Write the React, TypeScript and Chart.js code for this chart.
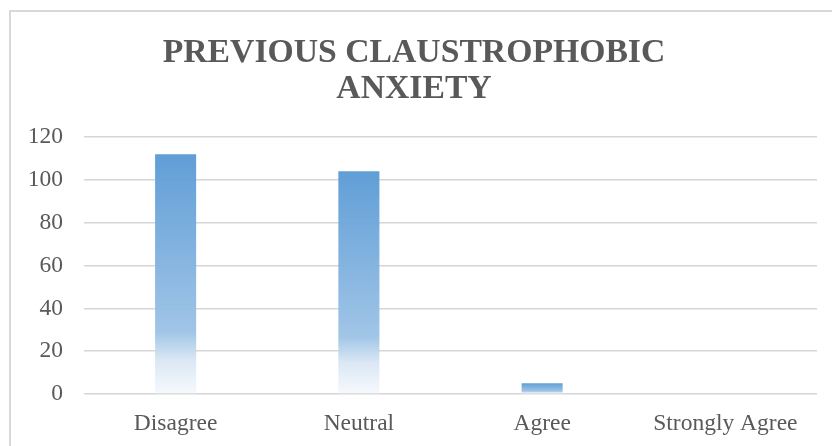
import React, { useEffect, useRef } from "react";
import { Chart, registerables } from "chart.js";

Chart.register(...registerables);

const categories = ["Disagree", "Neutral", "Agree", "Strongly Agree"];
const counts = [112, 104, 5, 0];
const titleLines = ["PREVIOUS CLAUSTROPHOBIC", "ANXIETY"];
const yMin = 0;
const yMax = 120;
const yStep = 20;

const FONT = "'Liberation Serif', 'Times New Roman', serif";
const TEXT = "#595959";

export default function App() {
  const ref = useRef<HTMLCanvasElement | null>(null);

  useEffect(() => {
    if (!ref.current) return;
    const chart = new Chart(ref.current, {
      type: "bar",
      data: {
        labels: categories,
        datasets: [
          {
            label: "Count",
            data: counts,
            barPercentage: 0.224,
            categoryPercentage: 1,
            borderWidth: 0,
            backgroundColor: (ctx: any) => {
              const c = ctx.chart;
              const ys = c.scales && c.scales.y;
              if (!ys || ctx.type !== "data") return "#5B9BD5";
              const v = ctx.parsed ? ctx.parsed.y : 0;
              const top = ys.getPixelForValue(v);
              const bottom = ys.getPixelForValue(0);
              if (!isFinite(top) || !isFinite(bottom) || Math.abs(bottom - top) < 1) return "#5B9BD5";
              const g = c.ctx.createLinearGradient(0, top, 0, bottom);
              g.addColorStop(0, "rgba(91,155,213,0.97)");
              g.addColorStop(0.74, "rgba(157,195,230,0.97)");
              g.addColorStop(0.86, "rgba(218,231,244,0.97)");
              g.addColorStop(1, "rgba(246,249,253,0.97)");
              return g;
            },
          },
        ],
      },
      options: {
        responsive: false,
        animation: false,
        layout: { padding: { left: 0, right: 15, top: 0, bottom: 0 } },
        plugins: {
          legend: { display: false },
          tooltip: { enabled: false },
          title: {
            display: true,
            text: titleLines,
            color: TEXT,
            font: { family: FONT, size: 33.7, weight: "bold", lineHeight: 1.07 },
            padding: { top: 23, bottom: 30 },
          },
        },
        scales: {
          x: {
            grid: { display: false, drawTicks: false },
            border: { display: false },
            ticks: { color: TEXT, font: { family: FONT, size: 23.5 }, padding: 16, maxRotation: 0 },
            afterFit: (s: any) => {
              s.height = 52;
            },
          },
          y: {
            min: yMin,
            max: yMax,
            grid: { color: "#d6d6d6", lineWidth: 1.5, drawTicks: false },
            border: { display: false },
            ticks: { stepSize: yStep, color: TEXT, font: { family: FONT, size: 23.5 }, padding: 21 },
            afterFit: (s: any) => {
              s.width = 73;
            },
          },
        },
      },
    });
    return () => chart.destroy();
  }, []);

  return (
    <div
      style={{
        position: "fixed",
        left: 9,
        top: 10,
        right: 0,
        bottom: 0,
        borderLeft: "2px solid #d9d9d9",
        borderTop: "2px solid #d9d9d9",
        background: "#fff",
        overflow: "hidden",
      }}
    >
      <canvas ref={ref} width={821} height={434} style={{ display: "block" }} />
    </div>
  );
}
